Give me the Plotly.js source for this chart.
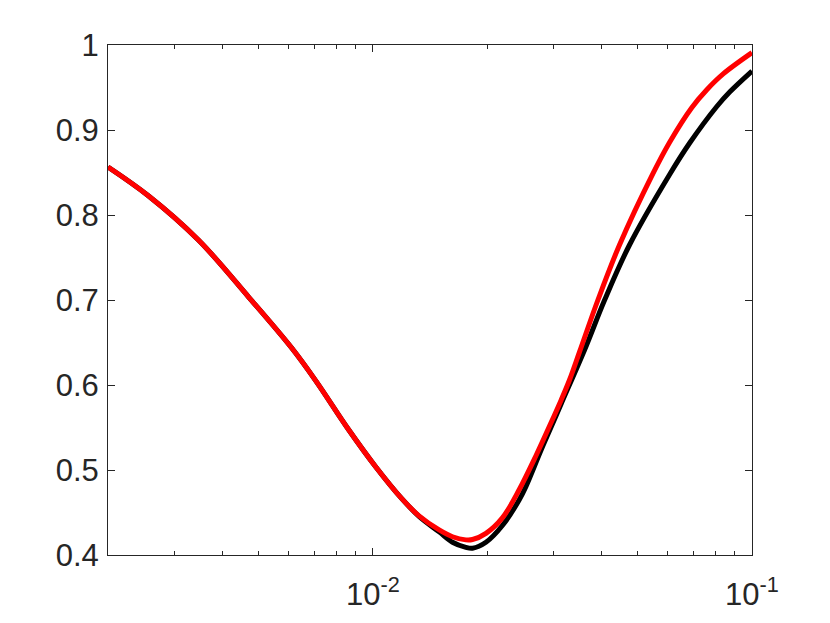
<!DOCTYPE html>
<html>
<head>
<meta charset="utf-8">
<script src="https://cdn.plot.ly/plotly-3.0.1.min.js"></script>
<style>html,body{margin:0;padding:0;background:#fff;}#chart{width:830px;height:623px;}</style>
</head>
<body>
<div id="chart"></div>
<script>
// Black series
const blackX = [0.002, 0.002555, 0.003464, 0.004699, 0.006106, 0.007053, 0.008639, 0.010165, 0.011931, 0.01323,
  0.01495, 0.016212, 0.017584, 0.018307, 0.019867, 0.02198, 0.024325, 0.025351, 0.027774, 0.030431, 0.031379,
  0.036157, 0.040848, 0.047544, 0.060687, 0.068549, 0.080652, 0.087446, 0.1];
const blackY = [0.8565, 0.8227, 0.7706, 0.7035, 0.6435, 0.6055, 0.5471, 0.5039, 0.4660, 0.4455,
  0.4272, 0.4150, 0.4090, 0.4080, 0.4150, 0.4350, 0.4650, 0.4810, 0.5235, 0.5640, 0.5780,
  0.6412, 0.7000, 0.7650, 0.8480, 0.8850, 0.9274, 0.9450, 0.9694];
// Red series
const redX = [0.002, 0.002555, 0.003464, 0.004699, 0.006106, 0.007053, 0.008639, 0.010165, 0.011931, 0.01323,
  0.01495, 0.016212, 0.017584, 0.018307, 0.019867, 0.02198, 0.024325, 0.026935, 0.029803, 0.031379, 0.033,
  0.035075, 0.039219, 0.044737, 0.054812, 0.060687, 0.069263, 0.075896, 0.083946, 0.1];
const redY = [0.8565, 0.8227, 0.7706, 0.7035, 0.6435, 0.6055, 0.5471, 0.5039, 0.4660, 0.4460,
  0.4295, 0.4215, 0.4178, 0.4182, 0.4255, 0.4440, 0.4770, 0.5170, 0.5600, 0.5824, 0.6059,
  0.6390, 0.7000, 0.7650, 0.8490, 0.8860, 0.9260, 0.9471, 0.9660, 0.9910];
// Ticks
const xTickVals = [0.01, 0.1];
const xTickText = ['10<sup>-2</sup>', '10<sup>-1</sup>'];
const xMinorVals = [0.002, 0.003, 0.004, 0.005, 0.006, 0.007, 0.008, 0.009, 0.02, 0.03, 0.04, 0.05, 0.06, 0.07, 0.08, 0.09];
const yTickVals = [0.4, 0.5, 0.6, 0.7, 0.8, 0.9, 1];
const yTickText = ['0.4', '0.5', '0.6', '0.7', '0.8', '0.9', '1'];

const axColor = '#262626';
const tickFont = {family: '"Liberation Sans", Arial, sans-serif', size: 31, color: axColor};
const traces = [
  {x: blackX, y: blackY, type: 'scatter', mode: 'lines', line: {color: '#000000', width: 5, shape: 'spline', smoothing: 1}, hoverinfo: 'skip'},
  {x: redX, y: redY, type: 'scatter', mode: 'lines', line: {color: '#ff0000', width: 5, shape: 'spline', smoothing: 1}, hoverinfo: 'skip'}
];
const layout = {
  width: 830, height: 623,
  margin: {l: 108, r: 78, t: 45, b: 68, pad: 0},
  paper_bgcolor: '#ffffff', plot_bgcolor: '#ffffff',
  showlegend: false,
  font: tickFont,
  xaxis: {
    type: 'log', range: [Math.log10(0.002), -1], autorange: false,
    tickmode: 'array', tickvals: xTickVals, ticktext: xTickText, tickfont: tickFont,
    ticks: 'inside', ticklen: 7, tickwidth: 1, tickcolor: axColor,
    showline: true, linecolor: axColor, linewidth: 1, mirror: 'ticks',
    showgrid: false, zeroline: false, ticklabelstandoff: 12,
    minor: {tickmode: 'array', tickvals: xMinorVals, ticks: 'inside', ticklen: 4, tickwidth: 1, tickcolor: axColor, showgrid: false}
  },
  yaxis: {
    range: [0.4, 1], autorange: false,
    tickmode: 'array', tickvals: yTickVals, ticktext: yTickText, tickfont: tickFont,
    ticks: 'inside', ticklen: 7, tickwidth: 1, tickcolor: axColor,
    showline: true, linecolor: axColor, linewidth: 1, mirror: 'ticks',
    showgrid: false, zeroline: false, ticklabelstandoff: 2
  }
};
Plotly.newPlot('chart', traces, layout, {staticPlot: true, displayModeBar: false});
</script>
</body>
</html>
